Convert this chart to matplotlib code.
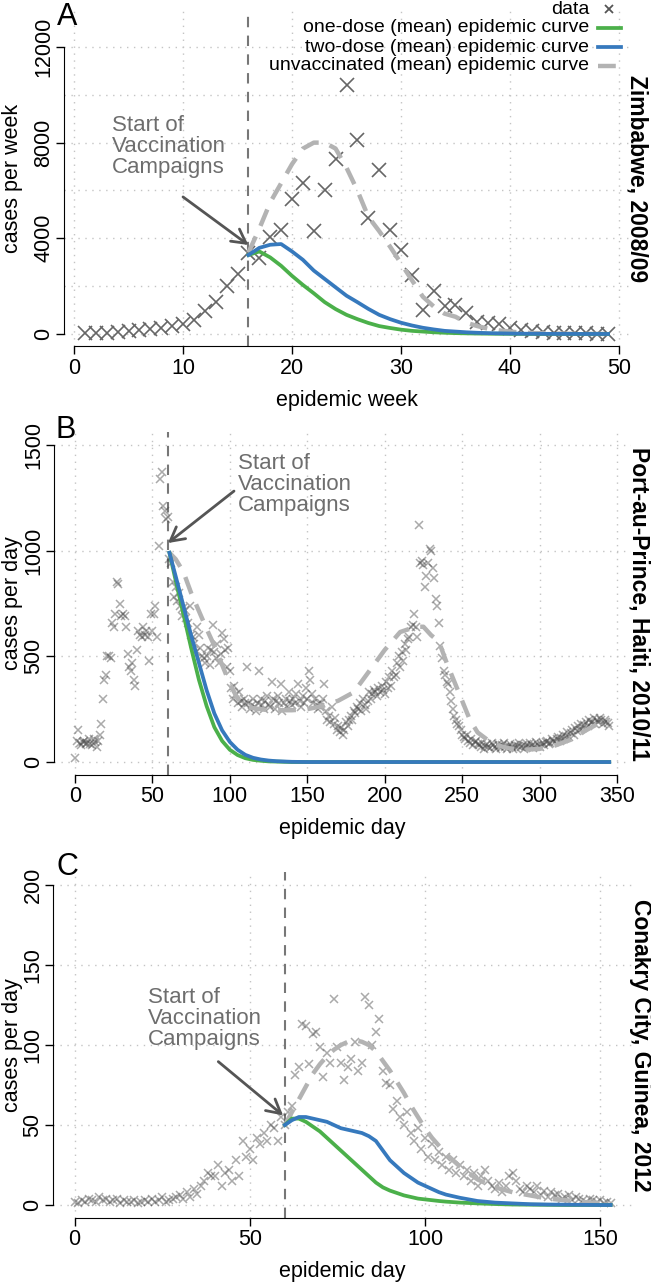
import numpy as np
import matplotlib.pyplot as plt
from matplotlib.lines import Line2D

plt.rcParams['font.family'] = ['Liberation Sans', 'DejaVu Sans']

# ---------------- colours ----------------
GREEN = "#4bb04a"
BLUE = "#3679bd"
GRAYD = "#b3b3b3"
PTS = "#444444"

# ---------------- panel A: Zimbabwe (weekly) ----------------
a_weeks = list(range(1, 50))
a_cases = [20, 40, 60, 80, 110, 160, 200, 260, 320, 420,
           580, 970, 1350, 2000, 2500, 3375, 3170, 4050, 4350, 5650,
           6300, 4300, 6000, 7300, 10400, 8100, 4850, 6860, 4350, 3500,
           2480, 1020, 1780, 1170, 1200, 870, 480, 450, 400, 250,
           180, 120, 90, 60, 40, 30, 20, 10, 10]
a_cw = list(range(16, 50))
a_one = [3300, 3450, 3200, 2850, 2430, 2050, 1700, 1330, 1040, 800,
         620, 460, 330, 250, 180, 130, 100, 70, 50, 35,
         25, 17, 12, 8, 6, 4, 3, 2, 1, 1, 0, 0, 0, 0]
a_two = [3300, 3600, 3730, 3760, 3450, 3100, 2650, 2300, 1950, 1600,
         1330, 1050, 800, 620, 470, 355, 260, 190, 130, 100,
         70, 50, 35, 25, 17, 12, 8, 6, 4, 3, 2, 1, 1, 0]
a_unv = [3400, 4400, 5500, 6300, 7100, 7750, 8000, 8000, 7750, 6950,
         6000, 4900, 4300, 3650, 2950, 2250, 1560, 1150, 850, 720,
         470, 330, 220, 150, 100, 60, 40, 28, 20, 12, 8, 5, 3, 2]

# ---------------- panel B: Port-au-Prince (daily) ----------------
b_days = list(range(0, 346))
b_cases = [20, 100, 150, 90, 80, 95, 100, 85, 90, 110,
           85, 80, 110, 95, 70, 100, 130, 180, 300, 390,
           410, 500, 500, 490, 660, 640, 700, 850, 840, 750,
           690, 700, 690, 640, 510, 450, 430, 470, 390, 360,
           530, 620, 600, 590, 640, 600, 620, 590, 480, 700,
           620, 700, 740, 590, 1020, 1340, 1370, 1210, 1190, 1150,
           1160, 960, 940, 850, 780, 830, 760, 800, 740, 690,
           730, 720, 680, 660, 740, 600, 590, 560, 520, 640,
           600, 540, 500, 490, 470, 500, 540, 460, 530, 650,
           520, 490, 560, 470, 510, 610, 580, 530, 450, 540,
           430, 350, 300, 360, 320, 280, 330, 290, 260, 300,
           280, 450, 280, 250, 270, 300, 260, 240, 280, 430,
           300, 270, 250, 290, 310, 270, 260, 380, 300, 250,
           290, 310, 280, 370, 240, 280, 300, 260, 330, 290,
           270, 300, 280, 320, 370, 290, 260, 310, 280, 350,
           300, 430, 390, 320, 280, 300, 270, 250, 260, 280,
           300, 370, 240, 200, 220, 190, 260, 180, 210, 150,
           170, 140, 160, 130, 150, 190, 170, 200, 220, 200,
           240, 230, 260, 250, 280, 240, 300, 270, 250, 290,
           330, 300, 320, 340, 330, 310, 350, 330, 360, 340,
           320, 380, 350, 400, 360, 430, 400, 410, 470, 500,
           450, 520, 480, 560, 530, 580, 590, 640, 650, 700,
           640, 590, 1120, 940, 950, 930, 830, 880, 940, 1010,
           1000, 920, 870, 770, 740, 660, 550, 490, 430, 410,
           380, 370, 330, 290, 250, 220, 200, 180, 170, 150,
           130, 120, 110, 130, 100, 90, 110, 80, 95, 100,
           85, 80, 70, 90, 60, 75, 85, 70, 65, 90,
           80, 70, 60, 85, 75, 65, 80, 90, 70, 60,
           75, 85, 70, 60, 80, 65, 75, 90, 70, 80,
           60, 75, 85, 70, 90, 80, 65, 75, 95, 80,
           70, 85, 90, 80, 95, 100, 85, 90, 110, 100,
           95, 110, 120, 100, 115, 130, 110, 125, 140, 120,
           135, 150, 130, 160, 145, 170, 150, 180, 160, 175,
           190, 170, 200, 185, 190, 210, 180, 200, 190, 210,
           200, 180, 200, 190, 185, 170]
b_cd = [61, 65, 70, 75, 80, 85, 90, 95, 100, 105, 110, 115, 120, 125, 130,
        140, 150, 160, 170, 180, 190, 200, 210, 220, 225, 230, 235, 240,
        245, 250, 255, 260, 270, 280, 290, 300, 310, 320, 330, 340, 345]
b_one = [990, 860, 700, 540, 390, 265, 165, 100, 58, 33, 18, 10, 6, 3, 2,
         0, 0, 0, 0, 0, 0, 0, 0, 0, 0, 0, 0, 0,
         0, 0, 0, 0, 0, 0, 0, 0, 0, 0, 0, 0, 0]
b_two = [990, 880, 740, 600, 470, 340, 230, 150, 95, 58, 34, 20, 12, 7, 4,
         1, 0, 0, 0, 0, 0, 0, 0, 0, 0, 0, 0, 0,
         0, 0, 0, 0, 0, 0, 0, 0, 0, 0, 0, 0, 0]
b_unv = [990, 960, 900, 800, 715, 630, 550, 460, 370, 300, 270, 255, 250, 245, 245,
         245, 250, 265, 290, 330, 430, 530, 615, 640, 640, 600, 570, 470,
         380, 290, 200, 140, 85, 65, 58, 62, 78, 105, 150, 190, 200]

# ---------------- panel C: Conakry (daily) ----------------
c_days = list(range(0, 154))
c_cases = [2, 1, 3, 2, 4, 3, 2, 5, 3, 4,
           2, 3, 4, 1, 3, 2, 2, 3, 1, 2,
           3, 2, 4, 2, 3, 5, 2, 3, 4, 5,
           6, 4, 8, 5, 10, 7, 12, 15, 20, 18,
           18, 25, 12, 20, 22, 15, 28, 18, 40, 30,
           35, 28, 42, 38, 45, 40, 50, 48, 40, 55,
           50, 58, 62, 81, 86, 113, 112, 88, 107, 108,
           99, 80, 95, 89, 129, 99, 89, 78, 86, 91,
           102, 84, 89, 130, 125, 100, 108, 116, 84, 76,
           75, 60, 65, 55, 50, 58, 45, 40, 48, 35,
           42, 30, 38, 28, 33, 25, 30, 22, 28, 20,
           25, 18, 22, 15, 20, 12, 18, 22, 15, 12,
           10, 14, 8, 12, 18, 20, 15, 10, 8, 12,
           10, 8, 12, 6, 9, 5, 8, 6, 7, 4,
           5, 6, 3, 5, 4, 3, 2, 4, 3, 2,
           3, 1, 2, 1]
c_cd = [60, 62, 64, 66, 68, 70, 72, 74, 76, 78, 80, 82, 84, 86, 88, 90, 92,
        94, 96, 98, 100, 102, 104, 106, 108, 110, 115, 120, 125, 130, 135,
        140, 145, 150, 153]
c_one = [50, 54, 54, 52, 49, 46, 42, 38, 34, 30, 26, 22, 18, 14, 11, 9, 7.5,
         6, 5, 4, 3.5, 3, 2.5, 2.1, 1.8, 1.5, 1.0, 0.6, 0.3, 0.2, 0.1,
         0, 0, 0, 0]
c_two = [50, 53, 55, 55, 54, 53, 52, 50, 48, 47, 46, 45, 43, 40, 34, 28, 24,
         20, 17, 14, 12, 10, 8, 6.5, 5.5, 4.5, 2.5, 1.5, 1, 0.5, 0.3,
         0.2, 0.1, 0, 0]
c_unv = [50, 58, 66, 74, 82, 88, 93, 97, 100, 102, 103, 102, 100, 96, 90, 84, 77,
         70, 62, 55, 48, 42, 37, 32, 28, 24, 16, 11, 8, 6, 4,
         3, 2, 1, 1]

W, H = 651, 1283
fig = plt.figure(figsize=(W / 100, H / 100), dpi=100)


def make_ax(l, r, t, b):
    return fig.add_axes([l / W, 1 - b / H, (r - l) / W, (b - t) / H])


def style(ax, xt, yt, xg, yg, xlab, ylab, title, ylab_x):
    for s in ["top", "right"]:
        ax.spines[s].set_visible(False)
    ax.spines["left"].set_bounds(yt[0], yt[-1])
    ax.spines["bottom"].set_bounds(xt[0], xt[-1])
    ax.set_xticks(xt)
    ax.set_yticks(yt)
    ax.tick_params(length=6, width=1, labelsize=15.5, pad=2)
    ax.tick_params(axis="y", labelrotation=90, pad=1)
    for lab in ax.get_yticklabels():
        lab.set_va("center")
    for v in xg:
        ax.axvline(v, color="#c4c4c4", lw=1, ls=(0, (1, 4)), zorder=0)
    for v in yg:
        ax.axhline(v, color="#c4c4c4", lw=1, ls=(0, (1, 4)), zorder=0)
    ax.set_xlabel(xlab, fontsize=15.5, labelpad=8)
    ax.set_ylabel(ylab, fontsize=15.5)
    ax.yaxis.set_label_coords(ylab_x, 0.5)
    ax.text(1.014, 0.5, title, transform=ax.transAxes, rotation=270,
            ha="center", va="center", fontsize=16.5, fontweight="bold")


def campaign(ax, xytext, start, tip):
    ax.text(xytext[0], xytext[1], "Start of\nVaccination\nCampaigns",
            fontsize=16, color="#6e6e6e", ha="left", va="top",
            linespacing=1.0)
    ax.annotate("", xy=tip, xytext=start,
                arrowprops=dict(arrowstyle="->,head_length=0.55,head_width=0.3",
                                color="#555555", lw=2, mutation_scale=18,
                                shrinkA=0, shrinkB=0))


def curves(ax, x, one, two, unv):
    ax.plot(x, unv, color=GRAYD, lw=3.2, dashes=(4, 2.6), zorder=3)
    ax.plot(x, one, color=GREEN, lw=2.7, zorder=4)
    ax.plot(x, two, color=BLUE, lw=2.7, zorder=5)


# ---- A ----
axA = make_ax(64, 629, 10.6, 346.4)
axA.set_xlim(-0.92, 50.92)
axA.set_ylim(-520, 13520)
axA.plot(a_weeks, a_cases, ls="none", marker="x", ms=9.5, mew=1.2,
         color="#666666", zorder=2)
curves(axA, a_cw, a_one, a_two, a_unv)
axA.axvline(16, color="#777777", lw=1.5, ls=(0, (5, 4)), zorder=1)
style(axA, [0, 10, 20, 30, 40, 50], [0, 4000, 8000, 12000],
      [0, 10, 20, 30, 40, 50], list(range(0, 12001, 2000)),
      "epidemic week", "cases per week", "Zimbabwe, 2008/09", -0.0726)
campaign(axA, (3.5, 9150), (10.0, 5730), (16, 3720))

# ---- B ----
axB = make_ax(53.6, 630.6, 432.3, 774.7)
axB.set_xlim(-13.8, 358.8)
axB.set_ylim(-60, 1560)
axB.plot(b_days, b_cases, ls="none", marker="x", ms=6, mew=1.1,
         color=PTS, alpha=0.45, zorder=2)
curves(axB, b_cd, b_one, b_two, b_unv)
axB.axvline(60, color="#777777", lw=1.5, ls=(0, (5, 4)), zorder=1)
style(axB, list(range(0, 351, 50)), [0, 500, 1000, 1500],
      list(range(0, 351, 50)), [0, 500, 1000, 1500],
      "epidemic day", "cases per day", "Port-au-Prince, Haiti, 2010/11",
      -0.053)
campaign(axB, (105, 1460), (102.7, 1282), (60, 1036))

# ---- C ----
axC = make_ax(53.3, 632, 872.2, 1217.8)
axC.set_xlim(-6.1, 159.1)
axC.set_ylim(-8, 208)
axC.plot(c_days, c_cases, ls="none", marker="x", ms=6, mew=1.1,
         color=PTS, alpha=0.45, zorder=2)
curves(axC, c_cd, c_one, c_two, c_unv)
axC.axvline(60, color="#777777", lw=1.5, ls=(0, (5, 4)), zorder=1)
style(axC, [0, 50, 100, 150], [0, 50, 100, 150, 200],
      [0, 50, 100, 150], [0, 50, 100, 150, 200],
      "epidemic day", "cases per day", "Conakry City, Guinea, 2012",
      -0.052)
campaign(axC, (21, 136), (41, 89.6), (59.5, 56))

# ---- panel letters ----
for letter, (px, py) in zip("ABC", [(67, 17), (66, 430), (67, 867)]):
    fig.text(px / W, 1 - py / H, letter, fontsize=22, ha="center",
             va="center")

# ---- legend (panel A, top right) ----
leg_rows = [("data", "pts"), ("one-dose (mean) epidemic curve", GREEN),
            ("two-dose (mean) epidemic curve", BLUE),
            ("unvaccinated (mean) epidemic curve", "unv")]
for i, (lab, kind) in enumerate(leg_rows):
    yy = 1 - (9 + i * 19.0) / H
    fig.text(589 / W, yy, lab, ha="right", va="center", fontsize=14)
    if kind == "pts":
        fig.add_artist(Line2D([609 / W], [yy], ls="none", marker="x", ms=6,
                              mew=1.3, color="#555555"))
    elif kind == "unv":
        fig.add_artist(Line2D([598 / W, 621 / W], [yy, yy], color=GRAYD,
                              lw=3.2, dashes=(4, 2.6)))
    else:
        fig.add_artist(Line2D([598 / W, 621 / W], [yy, yy], color=kind,
                              lw=2.7))

fig.savefig("out.png", dpi=100)
